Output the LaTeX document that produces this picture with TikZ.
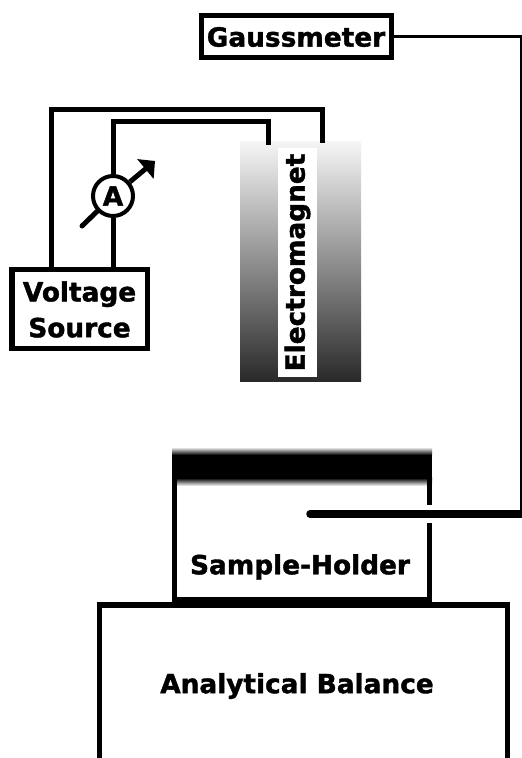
\documentclass[tikz,border=0pt]{standalone}
\usepackage{fontspec}
\setmainfont{DejaVu Sans}[BoldFeatures={FakeBold=1.5}]
\usepackage{tikz}
\usetikzlibrary{positioning,arrows.meta}

\begin{document}
\begin{tikzpicture}[
    font=\bfseries\fontsize{15}{20.4}\selectfont,
    line join=miter
]

\tikzstyle{labelbox}=[
    rectangle,
    draw,
    line width=0.1cm,
    fill=white,
    inner sep=0pt,
    align=center
]
\tikzstyle{wire}=[
    line width=0.1cm
]
\tikzstyle{thinwire}=[
    line width=0.06cm
]
\tikzstyle{wall}=[
    line width=0.11cm
]

\useasboundingbox (0,0) rectangle (10.42,15.16);

% electromagnet
\node[rectangle, minimum width=2.42cm, minimum height=4.8cm, inner sep=0pt,
    top color=gray!8, bottom color=black!84] (magnet) at (6.01,9.92) {};
\node[rectangle, fill=white, rotate=90, inner sep=0pt,
    minimum width=4.58cm, minimum height=0.78cm] (magnetlabel) at (5.95,9.91) {Electromagnet};

\node[labelbox, minimum width=3.8cm, minimum height=0.84cm] (gauss) at (5.92,14.42) {Gaussmeter};
\node[labelbox, minimum width=2.7cm, minimum height=1.58cm] (source) at (1.59,8.97) {Voltage\\Source};
\node[circle, draw, line width=0.08cm, fill=white, inner sep=0pt, minimum size=0.8cm] (meter) at (2.26,11.24) {A};

\coordinate (outerstart) at (1.02,9.8);
\coordinate (outercorner) at (6.44,12.96);
\coordinate (outerend) at (6.44,12.30);
\coordinate (innercorner) at (2.26,12.72);
\coordinate (innerend) at (5.36,12.26);
\coordinate (metertail) at (1.64,10.64);
\coordinate (metertip) at (3.10,11.94);
\coordinate (probetip) at (6.2,4.88);
\coordinate (probeend) at (10.42,4.88);

% wires
\draw[wire] (outerstart) |- (outercorner) -- (outerend);
\draw[wire] (meter) -- (innercorner) -- (innercorner -| innerend) -- (innerend);
\draw[wire] (meter) -- (meter |- source.north);
\draw[wire, line cap=round] (metertail) -- (meter);
\draw[wire, -{Triangle[length=0.25cm,width=0.5cm]}] (meter) -- (metertip);
\draw[thinwire] (gauss.east) -| (probeend);

% sample holder
\shade[top color=white, bottom color=black] (3.44,6.22) rectangle (8.64,6.06);
\fill[black] (3.44,6.06) rectangle (8.64,5.6);
\shade[top color=black, bottom color=white] (3.44,5.6) rectangle (8.64,5.44);
\draw[wall] (3.49,5.6) -- (3.49,3.16) -- (8.59,3.16) -- (8.59,4.7);
\draw[wall] (8.59,5.06) -- (8.59,5.6);
\draw[line width=0.15cm, line cap=round] (probetip) -- (probeend);
\node (holder) at (6.0,3.82) {Sample-Holder};

% balance
\draw[wall] (1.99,0) -- (1.99,3.06) -- (10.15,3.06) -- (10.15,0);
\node (balance) at (5.94,1.44) {Analytical Balance};

\end{tikzpicture}
\end{document}
